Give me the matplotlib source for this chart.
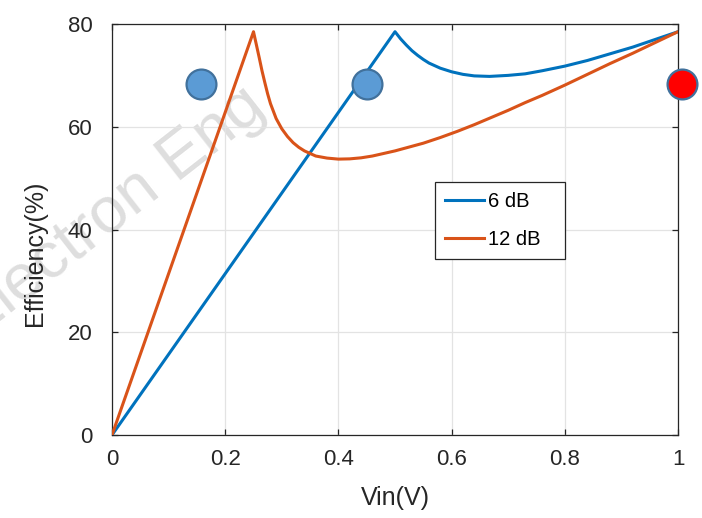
import matplotlib
matplotlib.use("Agg")
import matplotlib.pyplot as plt

plt.rcParams['font.family'] = ['Liberation Sans', 'DejaVu Sans']

# ---- data ----
vin_6db = [0, 0.50, 0.51, 0.52, 0.53, 0.54, 0.55, 0.56, 0.58, 0.60, 0.62, 0.64,
           0.667, 0.70, 0.73, 0.76, 0.80, 0.84, 0.88, 0.92, 0.96, 1.0]
eff_6db = [0, 78.5, 77.1, 75.9, 74.8, 73.9, 73.1, 72.4, 71.4, 70.7, 70.2, 69.9,
           69.8, 70.0, 70.3, 70.9, 71.8, 72.9, 74.2, 75.5, 77.0, 78.5]

vin_12db = [0, 0.25, 0.255, 0.26, 0.265, 0.27, 0.275, 0.28, 0.29, 0.30, 0.31,
            0.32, 0.33, 0.34, 0.35, 0.36, 0.38, 0.40, 0.42, 0.44, 0.46, 0.48,
            0.50, 0.52, 0.55, 0.58, 0.61, 0.64, 0.67, 0.70, 0.73, 0.76, 0.80,
            0.84, 0.88, 0.92, 0.96, 1.0]
eff_12db = [0, 78.5, 76.0, 73.5, 70.9, 68.6, 66.4, 64.5, 61.6, 59.6, 58.1,
            56.9, 56.0, 55.3, 54.8, 54.3, 53.9, 53.7, 53.75, 53.95, 54.3, 54.8,
            55.3, 55.9, 56.8, 57.9, 59.1, 60.4, 61.8, 63.2, 64.7, 66.1, 68.1,
            70.2, 72.3, 74.3, 76.4, 78.5]

series_labels = ['6 dB', '12 dB']
marker_x_blue = [0.157, 0.450]
marker_y_blue = [68.3, 68.3]
marker_x_red = [1.0065]
marker_y_red = [68.3]

xticks = [0, 0.2, 0.4, 0.6, 0.8, 1]
xticklabels = ['0', '0.2', '0.4', '0.6', '0.8', '1']
yticks = [0, 20, 40, 60, 80]
yticklabels = ['0', '20', '40', '60', '80']

fig = plt.figure(figsize=(7.02, 5.18), dpi=100)
fig.patch.set_facecolor('white')
ax = fig.add_axes([112/702, 1-435/518, 566/702, 411/518])
ax.set_facecolor('none')

# watermark
fig.text(-26/702, 1-342/518, 'Electron Eng', rotation=38, rotation_mode='anchor',
         ha='left', va='baseline', fontsize=47, color='#dedede', zorder=-1)

ax.plot(vin_6db, eff_6db, color='#0072BD', lw=2.2, label=series_labels[0], zorder=3)
ax.plot(vin_12db, eff_12db, color='#D95319', lw=2.2, label=series_labels[1], zorder=3)

ax.plot(marker_x_blue, marker_y_blue, 'o', ms=21.5, mfc='#5B9BD5', mec='#41719C',
        mew=1.6, ls='none', clip_on=False, zorder=5)
ax.plot(marker_x_red, marker_y_red, 'o', ms=21.5, mfc='#FF0000', mec='#41719C',
        mew=1.6, ls='none', clip_on=False, zorder=5)

ax.set_xlim(0, 1)
ax.set_ylim(0, 80)
ax.set_xticks(xticks)
ax.set_xticklabels(xticklabels)
ax.set_yticks(yticks)
ax.set_yticklabels(yticklabels)
ax.grid(True, color='#e3e3e3', lw=0.9)
ax.set_axisbelow(True)
for s in ax.spines.values():
    s.set_color('#262626')
    s.set_linewidth(0.9)
ax.tick_params(direction='in', length=4, width=0.9, color='#262626',
               labelcolor='#262626', labelsize=16, top=True, right=True)
ax.tick_params(axis='x', pad=10)
ax.tick_params(axis='y', pad=14)

ax.set_xlabel('Vin(V)', fontsize=18, color='#262626', va='center', ha='center')
ax.xaxis.set_label_coords(0.5, -0.153)
ax.set_ylabel('Efficiency(%)', fontsize=18, color='#262626', va='center', ha='center')
ax.yaxis.set_label_coords(-0.136, 0.4416)

leg = ax.legend(loc='upper left', bbox_to_anchor=(435/702, 1-262/518, 130/702, 80/518),
                bbox_transform=fig.transFigure, mode='expand', borderaxespad=0,
                fontsize=14.5, frameon=True, fancybox=False, handlelength=1.95,
                handletextpad=0.2, labelspacing=0.92, borderpad=0.5)
leg.get_frame().set_edgecolor('#262626')
leg.get_frame().set_linewidth(0.9)
leg.get_frame().set_alpha(1)

fig.savefig('out.png', dpi=100)
